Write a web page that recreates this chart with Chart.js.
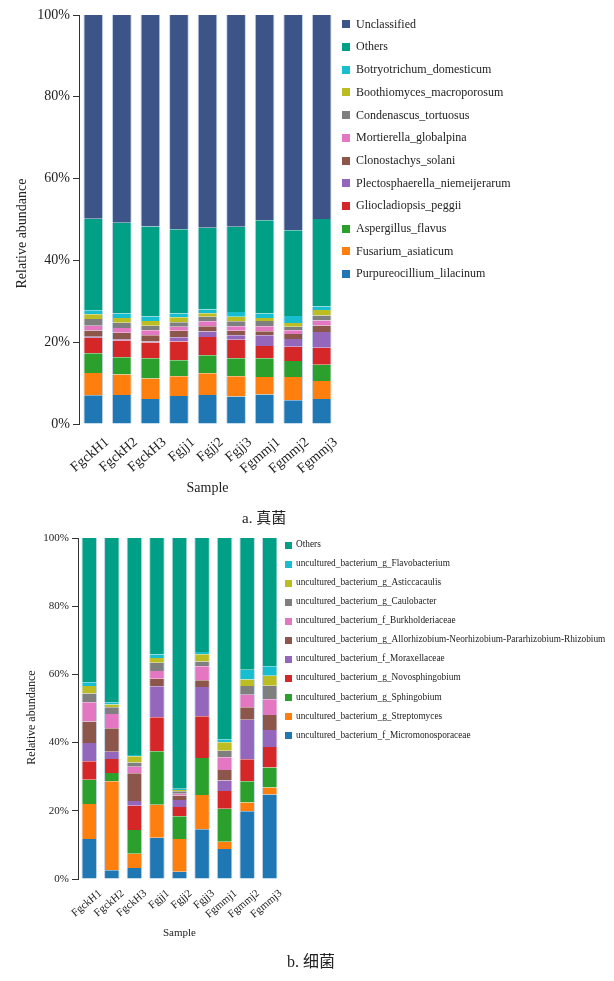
<!DOCTYPE html>
<html>
<head>
<meta charset="utf-8">
<script src="https://cdn.jsdelivr.net/npm/chart.js@4.4.1/dist/chart.umd.min.js"></script>
<style>
  body { margin: 0; background: #fff; width: 614px; height: 981px; position: relative; overflow: hidden; font-family: "Liberation Serif", serif; }
  #wrap1 { position: absolute; left: 0; top: 0; width: 614px; height: 500px; }
  #wrap2 { position: absolute; left: 0; top: 520px; width: 614px; height: 430px; }
  .item { position: absolute; white-space: nowrap; color: #222; line-height: 1; }
  .sw { position: absolute; }
  .cap { position: absolute; font-family: "Liberation Serif", "Noto Sans CJK SC", serif; color: #222; white-space: nowrap; }
</style>
</head>
<body>
<div id="wrap1"><canvas id="graf1"></canvas></div>
<div id="wrap2"><canvas id="graf2"></canvas></div>
<div id="leg1"></div>
<div id="leg2"></div>
<div class="cap" style="left:242px;top:506px;font-size:15px;">a. 真菌</div>
<div class="cap" style="left:287px;top:948px;font-size:16px;">b. 细菌</div>
<script>
// Amostras
const amostras = ['FgckH1', 'FgckH2', 'FgckH3', 'Fgjj1', 'Fgjj2', 'Fgjj3', 'Fgmmj1', 'Fgmmj2', 'Fgmmj3'];
const ticksY = [0, 20, 40, 60, 80, 100];

// Fungos (%), de baixo para cima
const purpureocillium = [7.0, 7.1, 6.1, 6.85, 7.1, 6.7, 7.2, 5.8, 6.1];
const fusarium = [5.5, 5.0, 5.0, 4.8, 5.3, 5.0, 4.3, 5.7, 4.4];
const aspergillus = [4.8, 4.2, 5.0, 3.95, 4.4, 4.4, 4.6, 3.9, 4.0];
const gliocladiopsis = [3.8, 4.1, 3.8, 4.6, 4.5, 4.5, 3.0, 3.5, 4.15];
const plectosphaerella = [0.25, 0.3, 0.3, 1.0, 1.3, 1.1, 2.6, 1.9, 3.85];
const clonostachys = [1.5, 1.6, 1.5, 1.6, 1.3, 1.1, 1.0, 1.2, 1.6];
const mortierella = [1.2, 1.2, 1.2, 1.0, 1.2, 1.1, 1.2, 0.9, 1.2];
const condenascus = [1.6, 1.25, 1.1, 1.1, 1.1, 1.2, 1.3, 0.9, 1.2];
const boothiomyces = [1.2, 1.15, 1.2, 1.2, 0.9, 1.1, 0.7, 0.9, 1.4];
const botryotrichum = [0.95, 1.1, 1.1, 0.9, 0.9, 1.2, 1.1, 1.7, 0.85];
const outrosFungos = [22.4, 22.2, 22.0, 20.6, 20.0, 20.8, 22.8, 21.0, 21.35];
const unclassified = [49.8, 50.8, 51.7, 52.4, 52.0, 51.8, 50.2, 52.6, 49.9];

// Bactérias (%), de baixo para cima
const micromonosporaceae = [11.7, 2.6, 3.2, 12.1, 2.1, 14.6, 8.8, 19.9, 24.8];
const streptomyces = [10.3, 26.1, 4.2, 9.7, 9.6, 10.0, 2.1, 2.5, 2.0];
const sphingobium = [7.1, 2.4, 7.0, 15.7, 6.7, 10.9, 9.7, 6.3, 5.9];
const novosphingobium = [5.4, 4.1, 7.1, 9.9, 2.7, 12.2, 5.2, 6.4, 6.0];
const moraxellaceae = [5.4, 2.1, 1.4, 9.1, 2.1, 8.6, 3.1, 11.6, 5.0];
const allorhizobium = [6.3, 6.9, 8.1, 2.2, 1.3, 2.0, 3.1, 3.7, 4.4];
const burkholderiaceae = [5.6, 4.2, 1.9, 2.3, 0.5, 4.1, 3.7, 3.6, 4.6];
const caulobacter = [2.6, 2.0, 1.3, 2.4, 0.7, 1.4, 1.9, 2.6, 4.0];
const asticcacaulis = [2.2, 0.8, 1.8, 1.4, 0.4, 2.1, 2.5, 1.9, 2.9];
const flavobacterium = [1.1, 0.6, 0.4, 1.0, 0.4, 0.7, 0.9, 2.9, 2.8];
const outrosBacterias = [42.3, 48.2, 63.6, 34.2, 73.5, 33.4, 59.0, 38.6, 37.6];

const cores = ['#1f77b4', '#ff7f0e', '#2ca02c', '#d62728', '#9467bd', '#8c564b',
               '#e377c2', '#7f7f7f', '#bcbd22', '#17becf', '#00a087', '#3c5488'];

const seriesFungos = [
    ['Purpureocillium_lilacinum', purpureocillium],
    ['Fusarium_asiaticum', fusarium],
    ['Aspergillus_flavus', aspergillus],
    ['Gliocladiopsis_peggii', gliocladiopsis],
    ['Plectosphaerella_niemeijerarum', plectosphaerella],
    ['Clonostachys_solani', clonostachys],
    ['Mortierella_globalpina', mortierella],
    ['Condenascus_tortuosus', condenascus],
    ['Boothiomyces_macroporosum', boothiomyces],
    ['Botryotrichum_domesticum', botryotrichum],
    ['Others', outrosFungos],
    ['Unclassified', unclassified]
];

const seriesBacterias = [
    ['uncultured_bacterium_f_Micromonosporaceae', micromonosporaceae],
    ['uncultured_bacterium_g_Streptomyces', streptomyces],
    ['uncultured_bacterium_g_Sphingobium', sphingobium],
    ['uncultured_bacterium_g_Novosphingobium', novosphingobium],
    ['uncultured_bacterium_f_Moraxellaceae', moraxellaceae],
    ['uncultured_bacterium_g_Allorhizobium-Neorhizobium-Pararhizobium-Rhizobium', allorhizobium],
    ['uncultured_bacterium_f_Burkholderiaceae', burkholderiaceae],
    ['uncultured_bacterium_g_Caulobacter', caulobacter],
    ['uncultured_bacterium_g_Asticcacaulis', asticcacaulis],
    ['uncultured_bacterium_g_Flavobacterium', flavobacterium],
    ['Others', outrosBacterias]
];

const serif = 'Liberation Serif';

function montarDatasets(series) {
    return series.map((s, i) => ({
        label: s[0],
        data: s[1],
        backgroundColor: cores[i],
        borderColor: 'rgba(185, 205, 228, 0.9)',
        borderWidth: { left: 1, right: 1, top: 0, bottom: 0 },
        borderSkipped: false,
        barPercentage: 0.69,
        categoryPercentage: 1
    }));
}

// Cria um gráfico empilhado
function criarGrafico(canvas, series, cfg) {
    return new Chart(canvas, {
        type: 'bar',
        data: { labels: amostras, datasets: montarDatasets(series) },
        options: {
            responsive: true,
            maintainAspectRatio: false,
            animation: false,
            layout: { padding: { left: 0, top: cfg.top, right: cfg.right, bottom: 0 } },
            plugins: { legend: { display: false }, tooltip: { enabled: false } },
            scales: {
                x: {
                    stacked: true,
                    grid: { display: false, drawTicks: false },
                    border: { display: false },
                    ticks: {
                        color: '#222',
                        font: { family: serif, size: cfg.tickX },
                        minRotation: 40,
                        maxRotation: 40,
                        autoSkip: false,
                        labelOffset: cfg.labelOffset,
                        padding: cfg.padX
                    },
                    title: {
                        display: true,
                        text: 'Sample',
                        color: '#222',
                        font: { family: serif, size: cfg.titleSize },
                        padding: { top: 0, bottom: cfg.titleBottom }
                    },
                    afterFit: function(s) { s.height = cfg.xHeight; }
                },
                y: {
                    stacked: true,
                    min: 0,
                    max: 100,
                    afterBuildTicks: function(s) { s.ticks = ticksY.map(v => ({ value: v })); },
                    grid: { drawOnChartArea: false, drawTicks: true, tickLength: 6, color: '#333' },
                    border: { display: true, color: '#333', width: 1 },
                    ticks: {
                        color: '#222',
                        padding: 3,
                        font: { family: serif, size: cfg.tickY },
                        callback: v => v + '%'
                    },
                    title: {
                        display: true,
                        // espaços no fim deslocam o título um pouco para baixo
                        text: 'Relative abundance' + '\u2002'.repeat(cfg.titleShift),
                        color: '#222',
                        font: { family: serif, size: cfg.yTitleSize },
                        padding: { top: cfg.titleLeft, bottom: 0 }
                    },
                    afterFit: function(s) { s.width = cfg.yWidth; }
                }
            }
        }
    });
}

// Legenda em HTML (ordem invertida, como na figura)
function montarLegenda(id, series, cfg) {
    const box = document.getElementById(id);
    const itens = series.map((s, i) => ({ nome: s[0], cor: cores[i] })).reverse();
    itens.forEach((it, k) => {
        const cy = cfg.y0 + cfg.dy * k;
        const sw = document.createElement('div');
        sw.className = 'sw';
        sw.style.cssText = `left:${cfg.x}px;top:${cy - cfg.size / 2}px;width:${cfg.size}px;height:${cfg.size}px;background:${it.cor};`;
        const tx = document.createElement('div');
        tx.className = 'item';
        tx.style.cssText = `left:${cfg.tx}px;top:${cy - cfg.font * 0.55}px;font-size:${cfg.font}px;`;
        tx.textContent = it.nome;
        box.appendChild(sw);
        box.appendChild(tx);
    });
}

criarGrafico(document.getElementById('graf1'), seriesFungos, {
    top: 15, right: 278, yWidth: 79, xHeight: 76,
    tickX: 14, tickY: 14, titleSize: 14, yTitleSize: 14, titleLeft: 14, titleBottom: 3,
    labelOffset: 14, padX: 10, titleShift: 4
});

criarGrafico(document.getElementById('graf2'), seriesBacterias, {
    top: 18, right: 333, yWidth: 78, xHeight: 71,
    tickX: 11, tickY: 11, titleSize: 11, yTitleSize: 12, titleLeft: 25, titleBottom: 10,
    labelOffset: 11, padX: 8, titleShift: 3
});

montarLegenda('leg1', seriesFungos, { x: 342, size: 8, tx: 356, y0: 24.3, dy: 22.7, font: 12 });
montarLegenda('leg2', seriesBacterias, { x: 284.5, size: 7, tx: 296, y0: 545.3, dy: 19.04, font: 9.3 });
</script>
</body>
</html>
